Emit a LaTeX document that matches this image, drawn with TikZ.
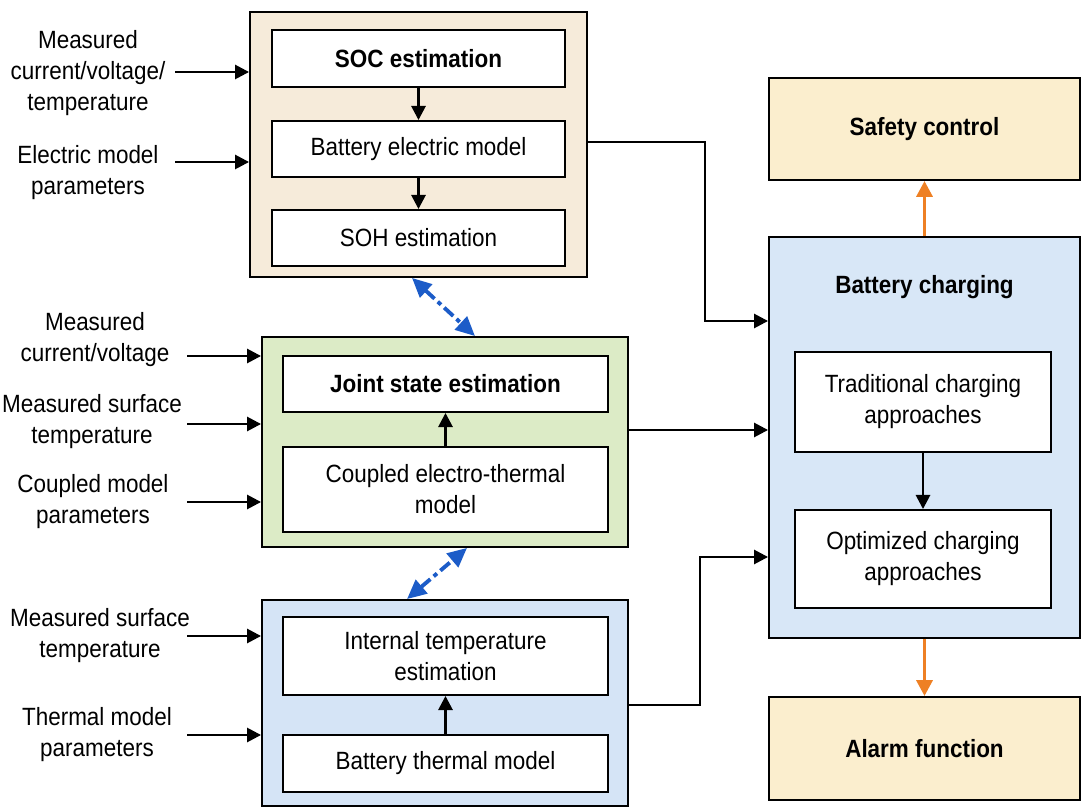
\documentclass[tikz,border=0pt]{standalone}
\usepackage{fontspec}
\setmainfont{Liberation Sans}[FakeStretch=0.9]
\usetikzlibrary{arrows.meta}

\definecolor{elecfill}{RGB}{246,235,218}
\definecolor{coupfill}{RGB}{220,235,198}
\definecolor{thermfill}{RGB}{213,228,246}
\definecolor{ctrlfill}{RGB}{251,238,206}
\definecolor{chgfill}{RGB}{216,231,247}
\definecolor{linkblue}{RGB}{28,92,200}
\definecolor{ctrlorange}{RGB}{238,128,36}

\begin{document}
\begin{tikzpicture}[x=0.02cm, y=-0.02cm, line width=1.1pt,
  every node/.style={font=\fontsize{14.2}{17.6}\selectfont, align=center},
  group/.style={draw, inner sep=0pt, fill=#1},
  box/.style={draw, inner sep=0pt, fill=white},
  arr/.style={line width=1.5pt, -{Triangle[length=8pt,width=8pt]}},
  ctrlarr/.style={draw=ctrlorange, line width=2pt, -{Triangle[length=9pt,width=9pt]}},
  linkarr/.style={draw=linkblue, line width=2.2pt, dash pattern=on 7pt off 2.5pt on 2.5pt off 2.5pt,
    {Triangle[length=11pt,width=10pt]}-{Triangle[length=11pt,width=10pt]}}]

\useasboundingbox (0,0) rectangle (1082,807);

% left column: estimation blocks
\node [group=elecfill, minimum width=6.74cm, minimum height=5.30cm] (grpE) at (418.5,144.5) {};
\node [box, minimum width=5.86cm, minimum height=1.14cm] (soc) at (418.5,58.5) {\textbf{SOC estimation}};
\node [box, minimum width=5.86cm, minimum height=1.12cm] (bem) at (418.5,149) {Battery electric model};
\node [box, minimum width=5.86cm, minimum height=1.12cm] (soh) at (418.5,238) {SOH estimation};

\node [group=coupfill, minimum width=7.32cm, minimum height=4.20cm] (grpC) at (445,442) {};
\node [box, minimum width=6.50cm, minimum height=1.12cm] (joint) at (445.5,384) {\textbf{Joint state estimation}};
\node [box, minimum width=6.50cm, minimum height=1.70cm] (coupled) at (445.5,489.5) {Coupled electro-thermal\\model};

\node [group=thermfill, minimum width=7.32cm, minimum height=4.12cm] (grpT) at (445,703) {};
\node [box, minimum width=6.50cm, minimum height=1.56cm] (internal) at (445.5,656) {Internal temperature\\estimation};
\node [box, minimum width=6.50cm, minimum height=1.14cm] (thermal) at (445.5,763.5) {Battery thermal model};

% right column: charging and control
\node [group=ctrlfill, minimum width=6.22cm, minimum height=2.04cm] (safety) at (924.5,129) {\textbf{Safety control}};
\node [group=chgfill, minimum width=6.22cm, minimum height=8.02cm] (charging) at (924.5,437.5) {};
\node (chgTitle) at (924.5,287) {\textbf{Battery charging}};
\node [box, minimum width=5.12cm, minimum height=2.00cm] (trad) at (923,402) {Traditional charging\\approaches};
\node [box, minimum width=5.12cm, minimum height=1.96cm] (optim) at (923,559) {Optimized charging\\approaches};
\node [group=ctrlfill, minimum width=6.22cm, minimum height=2.06cm] (alarm) at (924.5,748.5) {\textbf{Alarm function}};

% input labels
\node (lblE1) at (88,73) {Measured\\current/voltage/\\temperature};
\node (lblE2) at (88,173) {Electric model\\parameters};
\node (lblC1) at (95,340) {Measured\\current/voltage};
\node (lblC2) at (92,422) {Measured surface\\temperature};
\node (lblC3) at (93,502) {Coupled model\\parameters};
\node (lblT1) at (100,636) {Measured surface\\temperature};
\node (lblT2) at (97,735) {Thermal model\\parameters};

\foreach \n/\x/\y/\g in {inE1/175/72/grpE, inE2/175/162/grpE,
    inC1/187/356/grpC, inC2/187/424/grpC, inC3/187/502/grpC,
    inT1/187/636/grpT, inT2/187/735/grpT}
{
  \coordinate (\n) at (\x,\y);
  \draw [arr] (\n) -- (\g.west |- \n);
}

\draw [arr] (soc) -- (bem);
\draw [arr] (bem) -- (soh);
\draw [arr] (coupled) -- (joint);
\draw [arr] (thermal) -- (internal);
\draw [arr] (trad) -- (optim);

\coordinate (outE) at (587,142);
\coordinate (outT) at (628,705);
\draw [arr] (outE) -- (705,142) |- (charging.west |- 0,321);
\draw [arr] (grpC.east |- 0,430) -- (charging.west |- 0,430);
\draw [arr] (outT) -- (700,705) |- (charging.west |- 0,557);

\draw [ctrlarr] (charging.north) -- (safety.south);
\draw [ctrlarr] (charging.south) -- (alarm.north);

\draw [linkarr] ([xshift=-0.13cm]grpE.south) -- ([xshift=0.6cm]grpC.north);
\draw [linkarr] ([xshift=-0.76cm]grpT.north) -- ([xshift=0.44cm]grpC.south);

\end{tikzpicture}
\end{document}
